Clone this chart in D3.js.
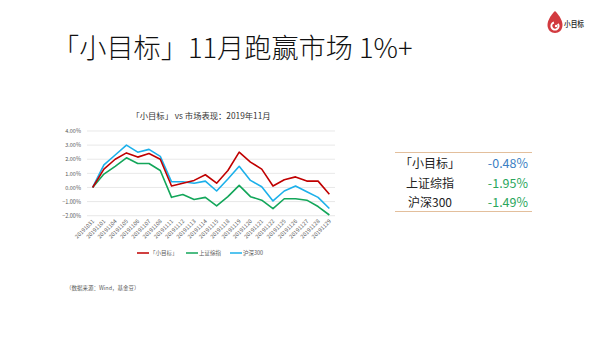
<!DOCTYPE html>
<html><head><meta charset="utf-8">
<script src="https://cdn.jsdelivr.net/npm/d3@7"></script>
<style>
html,body{margin:0;padding:0;background:#fff;}
svg{display:block;font-family:"Noto Sans CJK SC","Noto Sans",sans-serif;}
</style></head>
<body><svg id="c" width="600" height="338"></svg>
<script>
const dates = ["20191031","20191101","20191104","20191105","20191106","20191107","20191108","20191111","20191112","20191113","20191114","20191115","20191118","20191119","20191120","20191121","20191122","20191125","20191126","20191127","20191128","20191129"];
const xiaomubiao = [0,1.3,2.0,2.45,2.15,2.4,2.0,0.1,0.3,0.5,0.9,0.3,1.2,2.5,1.8,1.3,0.1,0.55,0.75,0.45,0.45,-0.48];
const shangzheng = [0,0.95,1.5,2.1,1.7,1.7,1.2,-0.7,-0.5,-0.85,-0.7,-1.3,-0.65,0.15,-0.65,-0.9,-1.5,-0.8,-0.8,-0.9,-1.35,-1.95];
const hushen300 = [0,1.6,2.3,3.0,2.5,2.7,2.2,0.4,0.4,0.3,0.45,-0.25,0.6,1.5,0.5,0.05,-0.95,-0.25,0.1,-0.3,-0.7,-1.49];
const yTicks = [-2,-1,0,1,2,3,4];
const seriesNames = ["「小目标」","上证综指","沪深300"];
const summaryValues = ["-0.48%","-1.95%","-1.49%"];

const svg = d3.select("#c");
svg.append("rect").attr("width",600).attr("height",338).attr("fill","#fff");

// main title
svg.append("text").attr("x",52).attr("y",57.5).attr("font-size",27.2).attr("font-weight",300)
  .attr("fill","#111").text("「小目标」11月跑赢市场 1%+");

// logo
const logo = svg.append("g").attr("transform","translate(555,22)");
logo.append("path").attr("d","M0,-11 C5,-6 7.5,-1 7.5,3 C7.5,8 4,11 0,11 C-4,11 -7.5,8 -7.5,3 C-7.5,-1 -5,-6 0,-11 Z").attr("fill","#d23a3f");
logo.append("path").attr("d", d3.arc()({innerRadius:2.6,outerRadius:4.6,startAngle:0.9,endAngle:2*Math.PI-0.3})).attr("transform","translate(0,4)").attr("fill","#fff");
logo.append("circle").attr("cx",1.2).attr("cy",4).attr("r",1.3).attr("fill","#fff");
svg.append("text").attr("x",564).attr("y",27).attr("font-size",8.5).attr("font-weight",500).attr("fill","#222")
  .attr("textLength",20).attr("lengthAdjust","spacingAndGlyphs").text("小目标");

// chart
const x = d3.scaleBand().domain(dates).range([87,335]).padding(0);
const y = d3.scaleLinear().domain([-2,4]).range([215.7,131]);
const cx = d => x(d) + x.bandwidth()/2;

svg.append("text").attr("x",201).attr("y",118.5).attr("text-anchor","middle")
  .attr("font-size",8.3).attr("fill","#333").text("「小目标」 vs 市场表现：2019年11月");

const grid = svg.append("g");
grid.selectAll("line").data(yTicks).join("line")
  .attr("x1",87).attr("x2",335).attr("y1",d=>y(d)).attr("y2",d=>y(d))
  .attr("stroke","#d9d9d9").attr("stroke-width",0.6);

const yAxis = d3.axisLeft(y).tickValues(yTicks).tickSize(0).tickPadding(6)
  .tickFormat(d => d3.format(".2f")(d) + "%");
const ya = svg.append("g").attr("transform","translate(87,0)").call(yAxis);
ya.select(".domain").remove();
ya.selectAll("text").attr("font-size",5.5).attr("fill","#595959").attr("font-family","'Noto Sans CJK SC',sans-serif");

const xa = svg.append("g").attr("transform","translate(0,215.7)")
  .call(d3.axisBottom(x).tickSize(0).tickPadding(0));
xa.select(".domain").remove();
xa.selectAll("text").attr("font-size",5.5).attr("fill","#595959")
  .attr("font-family","'Noto Sans CJK SC',sans-serif")
  .attr("text-anchor","end").attr("dy","0")
  .attr("transform","translate(2,6) rotate(-45)");

const colors = ["#c00000","#13a65a","#1cb0ea"];
const allSeries = [xiaomubiao, shangzheng, hushen300];
const line = d3.line().x((d,i)=>cx(dates[i])).y(d=>y(d));
[1,2,0].forEach(k=>{
  svg.append("path").datum(allSeries[k]).attr("d",line).attr("fill","none")
    .attr("stroke",colors[k]).attr("stroke-width",1.6).attr("stroke-linejoin","round");
});

// legend
const legX = [137,186,230];
seriesNames.forEach((n,k)=>{
  svg.append("line").attr("x1",legX[k]).attr("x2",legX[k]+12).attr("y1",253).attr("y2",253)
    .attr("stroke",colors[k]).attr("stroke-width",1.5);
  svg.append("text").attr("x",legX[k]+13).attr("y",255).attr("font-size",5.5).attr("fill","#595959").text(n);
});

svg.append("text").attr("x",66).attr("y",290).attr("font-size",5.5).attr("fill","#595959")
  .text("（数据来源：Wind，基金豆）");

// summary table
svg.append("line").attr("x1",395).attr("x2",532).attr("y1",152.5).attr("y2",152.5).attr("stroke","#e3bf9c").attr("stroke-width",1.2);
svg.append("line").attr("x1",395).attr("x2",532).attr("y1",211.5).attr("y2",211.5).attr("stroke","#e3bf9c").attr("stroke-width",1.2);
const rowY = [164,183.5,203];
const valColors = ["#3a7fc4","#2aa65c","#2aa65c"];
seriesNames.forEach((n,k)=>{
  svg.append("text").attr("x",430).attr("y",rowY[k]).attr("dy","0.35em").attr("text-anchor","middle")
    .attr("font-size",12).attr("fill","#222").text(n);
  svg.append("text").attr("x",528).attr("y",rowY[k]).attr("dy","0.35em").attr("text-anchor","end")
    .attr("font-size",12.5).attr("fill",valColors[k]).text(summaryValues[k]);
});
</script></body></html>
